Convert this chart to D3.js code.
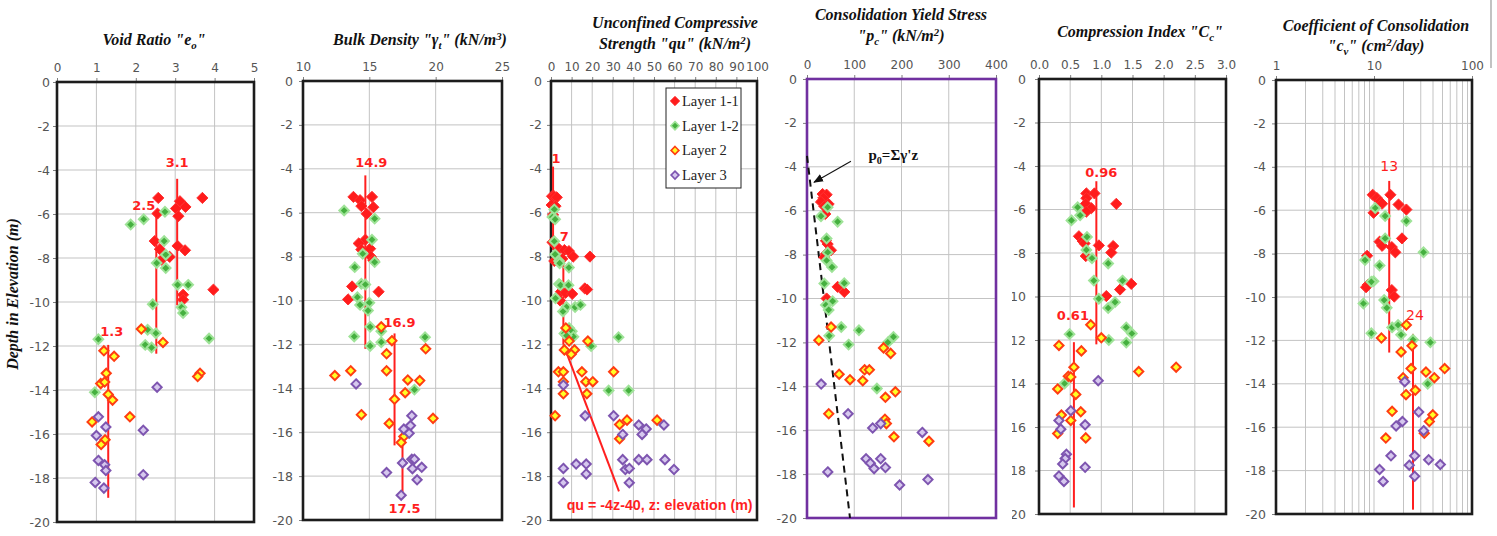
<!DOCTYPE html>
<html>
<head>
<meta charset="utf-8">
<script src="https://cdn.jsdelivr.net/npm/d3@7"></script>
<style>
  body { margin: 0; background: #fff; }
  svg { display: block; }
</style>
</head>
<body>
<script>
(function(d3) {
  "use strict";

  /***** Données *****/
  var layerNames = ["Layer 1-1", "Layer 1-2", "Layer 2", "Layer 3"];
  var depthTicks = [0, -2, -4, -6, -8, -10, -12, -14, -16, -18, -20];

  // Void ratio "eo" : [eo, profondeur]
  var e0_L11 = [[2.57,-5.27],[3.69,-5.27],[3.12,-5.42],[3.02,-5.75],[3.26,-5.68],[2.55,-5.98],[3.08,-6.1],[2.48,-7.23],[2.61,-7.6],[3.06,-7.45],[3.25,-7.65],[2.65,-8.08],[2.86,-7.95],[3.97,-9.44],[3.2,-9.67],[3.2,-9.9]];
  var e0_L12 = [[1.87,-6.48],[2.2,-6.24],[2.74,-5.9],[2.72,-7.23],[2.76,-7.85],[2.53,-8.23],[2.76,-8.46],[3.06,-9.22],[3.33,-9.22],[2.43,-10.1],[3.16,-10.24],[3.2,-10.5],[1.05,-11.69],[2.3,-11.26],[2.51,-11.42],[2.24,-11.95],[2.4,-12.07],[3.86,-11.66],[0.96,-14.1]];
  var e0_L2 = [[2.14,-11.23],[2.69,-11.84],[1.19,-12.22],[1.45,-12.47],[1.25,-13.24],[3.63,-13.24],[3.57,-13.39],[1.11,-13.71],[1.21,-13.64],[1.3,-14.2],[1.41,-14.46],[1.85,-15.22],[0.89,-15.45],[1.22,-16.26],[1.12,-16.48]];
  var e0_L3 = [[2.54,-13.87],[1.05,-15.22],[1.24,-15.68],[2.19,-15.83],[1.0,-16.07],[1.05,-17.2],[1.21,-17.4],[1.24,-17.66],[2.19,-17.85],[0.97,-18.2],[1.19,-18.46]];
  // moyennes : [texte, valeur, haut, bas]
  var e0_avg = [["3.1",3.05,-4.4,-10.15],["2.5",2.52,-6.0,-12.35],["1.3",1.3,-11.95,-18.9]];

  // Bulk density "γt"
  var g_L11 = [[13.8,-5.28],[15.2,-5.28],[14.3,-5.43],[14.4,-5.7],[15.3,-5.75],[14.8,-6.05],[14.7,-7.23],[14.2,-7.4],[14.4,-7.68],[15.06,-7.64],[15.1,-7.99],[15.3,-8.17],[13.7,-9.36],[15.7,-9.6],[13.4,-9.95]];
  var g_L12 = [[13.1,-5.9],[15.4,-6.27],[15.2,-7.23],[14.5,-7.87],[15.4,-8.25],[13.9,-8.48],[14.4,-9.24],[14.7,-9.27],[14.1,-9.85],[14.3,-10.2],[15.0,-10.1],[14.9,-10.46],[15.06,-11.2],[15.9,-11.4],[13.86,-11.64],[19.2,-11.67],[15.9,-11.9],[15.06,-12.07],[18.4,-14.06]];
  var g_L2 = [[15.9,-11.2],[16.7,-11.83],[19.25,-12.2],[16.3,-12.43],[16.3,-13.2],[13.6,-13.2],[12.4,-13.42],[17.9,-13.62],[18.8,-13.65],[17.7,-14.2],[16.9,-14.5],[14.4,-15.2],[19.8,-15.37],[16.5,-15.6],[17.6,-16.2],[17.4,-16.47]];
  var g_L3 = [[14.0,-13.8],[18.2,-15.25],[18.1,-15.7],[17.6,-15.86],[18.0,-16.05],[17.5,-17.4],[18.2,-17.23],[18.4,-17.23],[18.25,-17.66],[18.95,-17.6],[16.3,-17.84],[18.6,-18.17],[17.4,-18.87]];
  var g_avg = [["14.9",14.7,-4.3,-12.2],["16.9",16.9,-11.5,-16.6],["17.5",17.5,-15.9,-18.9]];

  // Unconfined compressive strength "qu"
  var q_L11 = [[0.5,-5.25],[1.5,-5.25],[2.8,-5.3],[0.3,-5.65],[2.2,-5.7],[1.0,-6.1],[0.7,-7.35],[3.9,-7.65],[6.5,-7.7],[8.7,-7.75],[10.8,-8.0],[18.9,-8.0],[1.6,-8.2],[5.5,-8.1],[16.4,-9.45],[17.5,-9.5],[4.8,-9.6],[7.1,-9.65],[10.3,-9.7],[4.4,-10.0]];
  var q_L12 = [[1.6,-5.85],[0.7,-6.2],[2.0,-6.3],[1.6,-7.3],[2.0,-7.9],[3.9,-8.2],[4.2,-8.3],[8.7,-8.5],[3.9,-9.25],[4.6,-9.3],[8.5,-9.3],[2.2,-9.9],[7.5,-10.3],[11.7,-10.3],[14.3,-10.2],[5.8,-10.5],[8.8,-11.25],[10.1,-11.4],[6.5,-11.5],[10.9,-11.65],[7.6,-11.6],[19.5,-12.08],[32.8,-11.67],[28,-14.1],[37.7,-14.1]];
  var q_L2 = [[7.2,-11.25],[8.8,-11.85],[17.9,-11.85],[6.5,-12.25],[11.4,-12.25],[9.8,-12.45],[3.6,-13.25],[6,-13.25],[15,-13.25],[30.4,-13.25],[6,-13.7],[16.9,-13.7],[20.3,-13.7],[6,-14.25],[17.4,-14.25],[2,-15.25],[36.9,-15.45],[33.3,-15.65],[51.5,-15.45],[33.3,-16.3]];
  var q_L3 = [[6,-13.85],[16.6,-15.25],[30.4,-15.25],[42.6,-15.67],[46.2,-15.85],[34.8,-16.1],[44.2,-16.1],[54.8,-15.67],[34.8,-17.25],[42.6,-17.25],[46.6,-17.25],[55.3,-17.25],[12.2,-17.45],[17.1,-17.45],[6,-17.65],[36.1,-17.7],[38,-17.65],[59.7,-17.7],[17.1,-17.9],[6,-18.3],[38,-18.3]];
  var q_avg = [["1",1,-3.9,-7.7],["7",6,-7.6,-12.0]];
  var q_trend = [[6,-12.0],[33,-18.7]];
  var q_trendLabel = "qu = -4z-40, z: elevation (m)";

  // Consolidation yield stress "pc"
  var pc_L11 = [[33,-5.24],[41.5,-5.27],[34.5,-5.42],[29.6,-5.6],[45.8,-5.7],[36.6,-5.8],[38.7,-6.15],[40,-7.37],[43.7,-7.52],[50.7,-7.8],[40,-7.97],[36.6,-8.12],[64.8,-9.47],[78.9,-9.7],[41.5,-10.0]];
  var pc_L12 = [[43.7,-5.84],[29.6,-6.25],[64.8,-6.5],[41.5,-7.27],[43.7,-7.9],[41.5,-8.27],[52.8,-8.57],[36.6,-9.32],[78.9,-9.3],[54.2,-10.12],[40,-10.3],[45.8,-10.52],[72.5,-11.3],[110,-11.45],[183,-11.75],[171,-12.0],[88,-12.1],[47,-11.7],[148,-14.1]];
  var pc_L2 = [[51,-11.3],[25,-11.9],[162,-12.25],[177,-12.5],[68,-13.45],[122,-13.25],[132,-13.25],[91,-13.7],[118,-13.75],[187,-14.25],[166,-14.5],[46,-15.25],[165,-15.5],[168,-15.7],[184,-16.3],[258,-16.5]];
  var pc_L3 = [[30,-13.9],[87,-15.25],[139,-15.9],[156,-15.7],[244,-16.1],[125,-17.3],[134,-17.5],[142,-17.75],[156,-17.3],[166,-17.7],[44,-17.9],[196,-18.5],[256,-18.25]];
  var pc_p0 = [[0,-3.5],[91,-20]];

  // Compression index "Cc"
  var cc_L11 = [[0.76,-5.26],[0.89,-5.26],[0.76,-5.48],[0.75,-5.74],[1.24,-5.74],[0.84,-5.94],[0.76,-6.1],[0.64,-7.23],[0.70,-7.45],[0.73,-7.56],[0.96,-7.65],[1.19,-7.68],[1.16,-7.98],[0.75,-8.14],[1.48,-9.42],[1.3,-9.68],[1.08,-9.98]];
  var cc_L12 = [[0.62,-5.9],[0.66,-6.27],[0.52,-6.5],[0.77,-7.26],[0.76,-7.86],[0.85,-8.24],[1.11,-8.48],[0.88,-9.27],[1.34,-9.27],[0.96,-10.1],[1.22,-10.26],[1.11,-10.53],[0.49,-11.73],[1.12,-12.0],[1.4,-11.42],[1.49,-11.7],[1.4,-12.12],[0.41,-14.0]];
  var cc_L2 = [[0.83,-11.3],[1.0,-11.9],[0.32,-12.25],[0.68,-12.5],[0.56,-13.25],[2.2,-13.25],[1.6,-13.45],[0.47,-13.67],[0.51,-13.7],[0.59,-14.5],[0.3,-14.25],[0.67,-15.3],[0.36,-15.45],[0.51,-15.7],[0.3,-16.3],[0.75,-16.5]];
  var cc_L3 = [[0.95,-13.87],[0.51,-15.25],[0.32,-15.7],[0.35,-16.1],[0.74,-15.9],[0.44,-17.25],[0.42,-17.45],[0.38,-17.7],[0.74,-17.85],[0.32,-18.25],[0.4,-18.5]];
  var cc_avg = [["0.96",0.92,-4.7,-12.2],["0.61",0.56,-12.1,-19.7]];

  // Coefficient of consolidation "cv"
  var cv_L11 = [[9.7,-5.29],[10.7,-5.44],[11.5,-5.6],[14.7,-5.29],[17.8,-5.74],[21.4,-5.97],[12.1,-5.7],[9.9,-6.12],[11.4,-7.45],[12.1,-7.64],[15.2,-7.7],[16.5,-7.94],[19.3,-7.3],[8.5,-8.1],[8.6,-9.45],[8.3,-9.55],[15.2,-9.68],[16.1,-9.98]];
  var cv_L12 = [[10.3,-5.9],[13,-6.27],[21.4,-6.5],[13,-7.3],[32,-7.94],[8.1,-8.3],[11.4,-8.55],[9.9,-9.27],[9.4,-9.3],[7.8,-10.3],[12.7,-10.14],[13.5,-10.5],[9.4,-11.67],[15.3,-11.4],[17.6,-11.29],[18.9,-11.74],[25,-11.97],[37.6,-12.09],[35.3,-14.0]];
  var cv_L2 = [[21.4,-11.29],[11.9,-11.89],[24.4,-12.25],[18.9,-12.53],[23.9,-13.3],[33.9,-13.46],[52.6,-13.3],[41.3,-13.72],[19.8,-13.72],[26.4,-14.3],[21.2,-14.5],[15.3,-15.27],[39.8,-15.43],[36.7,-15.74],[32.6,-16.28],[13.2,-16.5]];
  var cv_L3 = [[20.6,-13.9],[28.6,-15.3],[19.5,-15.74],[16.8,-15.94],[32.1,-16.16],[14.9,-17.32],[26,-17.32],[36.1,-17.5],[47.5,-17.72],[22.9,-17.75],[11.4,-17.95],[26,-18.26],[12.4,-18.5]];
  var cv_avg = [["13",14.3,-4.65,-12.56],["24",25,-11.7,-19.8]];

  // Titres : segments [texte, "sub" | "sup" | ""]
  var titleE0 = [[["Void Ratio \"e",""],["o","sub"],["\"",""]]];
  var titleG = [[["Bulk Density \"γ",""],["t","sub"],["\" (kN/m",""],["3","sup"],[")",""]]];
  var titleQ = [[["Unconfined Compressive",""]],[["Strength \"qu\" (kN/m",""],["2","sup"],[")",""]]];
  var titlePc = [[["Consolidation Yield Stress",""]],[["\"p",""],["c","sub"],["\" (kN/m",""],["2","sup"],[")",""]]];
  var titleCc = [[["Compression Index \"C",""],["c","sub"],["\"",""]]];
  var titleCv = [[["Coefficient of Consolidation",""]],[["\"c",""],["v","sub"],["\" (cm",""],["2","sup"],["/day)",""]]];
  var yTitle = "Depth in Elevation (m)";
  var p0Label = [["p",""],["0","sub"],["=Σγ'z",""]];

  /***** Configuration *****/
  var layerStyle = [
    { fill: "#ff1c1c", stroke: "#ff3030", r: 5.6, sw: 1 },
    { fill: "#45b03f", stroke: "#9fe398", r: 4.8, sw: 2 },
    { fill: "#ffff26", stroke: "#ff3d12", r: 4.6, sw: 2 },
    { fill: "#d6c8ee", stroke: "#7e55b0", r: 4.6, sw: 2 }
  ];
  var RED = "#ff1f1f";
  var GRID = "#c3c3c3";
  var TICK_FONT = "'DejaVu Sans', Verdana, sans-serif";
  var SERIF = "'Liberation Serif', 'Times New Roman', serif";

  var panels = [
    { x0: 57, x1: 254, y0: 82, y1: 522, domain: [0, 5], ticks: [0,1,2,3,4,5], fmt: String, yPad: 3,
      layers: [e0_L11, e0_L12, e0_L2, e0_L3], avg: e0_avg,
      avgLabel: [{ at: "top", dx: 0, dy: -12, anchor: "middle" }, { at: "top", dx: -1, dy: -4, anchor: "end" }, { at: "top", dx: -8, dy: -9, anchor: "start" }],
      title: titleE0, titleX: 154, titleY: [45] },
    { x0: 303, x1: 502, y0: 81, y1: 520, domain: [10, 25], ticks: [10,15,20,25], fmt: String, yPad: 6,
      layers: [g_L11, g_L12, g_L2, g_L3], avg: g_avg,
      avgLabel: [{ at: "top", dx: 6, dy: -8, anchor: "middle" }, { at: "top", dx: 5, dy: -6, anchor: "middle" }, { at: "bottom", dx: 2, dy: 17, anchor: "middle" }],
      title: titleG, titleX: 420, titleY: [45] },
    { x0: 551, x1: 757, y0: 81, y1: 520, domain: [0, 100], ticks: d3.range(0, 101, 10), fmt: String, yPad: 5,
      layers: [q_L11, q_L12, q_L2, q_L3], avg: q_avg,
      avgLabel: [{ at: "top", dx: 3, dy: -4, anchor: "middle" }, { at: "top", dx: 1, dy: -7, anchor: "middle" }],
      title: titleQ, titleX: 675, titleY: [28, 49], legend: true, trend: true },
    { x0: 807, x1: 996, y0: 79, y1: 518, domain: [0, 400], ticks: [0,100,200,300,400], fmt: String, yPad: 6,
      layers: [pc_L11, pc_L12, pc_L2, pc_L3], avg: [], avgLabel: [],
      title: titlePc, titleX: 901, titleY: [20, 41], border: "#7030a0", p0: true },
    { x0: 1039, x1: 1226, y0: 79, y1: 514, domain: [0, 3], ticks: [0,0.5,1,1.5,2,2.5,3], fmt: d3.format(".1f"), yPad: 9,
      layers: [cc_L11, cc_L12, cc_L2, cc_L3], avg: cc_avg,
      avgLabel: [{ at: "top", dx: 5, dy: -4, anchor: "middle" }, { at: "top", dx: -1, dy: -22, anchor: "middle" }],
      title: titleCc, titleX: 1140, titleY: [37], clipY: 1012 },
    { x0: 1276, x1: 1472, y0: 80, y1: 514, domain: [1, 100], ticks: [1,10,100], fmt: String, log: true, yPad: 6,
      layers: [cv_L11, cv_L12, cv_L2, cv_L3], avg: cv_avg,
      avgLabel: [{ at: "top", dx: 0, dy: -10, anchor: "middle" }, { at: "top", dx: 2, dy: -14, anchor: "middle" }],
      title: titleCv, titleX: 1376, titleY: [31, 51], avgWeight: "normal", avgSize: 14 }
  ];

  /***** Création des éléments *****/
  var svg = d3.select("body").append("svg")
    .attr("width", 1497)
    .attr("height", 536)
    .style("font-family", TICK_FONT);

  var defs = svg.append("defs");
  defs.append("marker")
    .attr("id", "arrow")
    .attr("viewBox", "0 0 10 10")
    .attr("refX", 9).attr("refY", 5)
    .attr("markerWidth", 9).attr("markerHeight", 9)
    .attr("orient", "auto")
    .append("path").attr("d", "M0,1L10,5L0,9Z").attr("fill", "#111");

  function diamond(h) {
    return "M0," + (-h) + "L" + h + ",0L0," + h + "L" + (-h) + ",0Z";
  }

  function richText(textSel, segs, subShift) {
    var shift = 0;
    segs.forEach(function(s) {
      var ts = textSel.append("tspan").text(s[0]);
      var target = s[1] === "sub" ? subShift : s[1] === "sup" ? -subShift - 1 : 0;
      if (target !== shift) ts.attr("dy", target - shift);
      if (s[1]) ts.attr("font-size", "68%");
      shift = target;
    });
  }

  panels.forEach(function(p, pi) {
    var x = (p.log ? d3.scaleLog() : d3.scaleLinear()).domain(p.domain).range([p.x0, p.x1]);
    var y = d3.scaleLinear().domain([0, -20]).range([p.y0, p.y1]);
    var g = svg.append("g");

    // Quadrillage
    var gridX = p.ticks;
    if (p.log) {
      gridX = [];
      [1, 10].forEach(function(dec) { d3.range(1, 10).forEach(function(k) { gridX.push(dec * k); }); });
      gridX.push(100);
    }
    g.append("g").selectAll("line").data(gridX).join("line")
      .attr("x1", function(d) { return x(d); }).attr("x2", function(d) { return x(d); })
      .attr("y1", p.y0).attr("y2", p.y1)
      .attr("stroke", GRID).attr("stroke-width", 1);
    g.append("g").selectAll("line").data(depthTicks).join("line")
      .attr("x1", p.x0).attr("x2", p.x1)
      .attr("y1", function(d) { return y(d); }).attr("y2", function(d) { return y(d); })
      .attr("stroke", GRID).attr("stroke-width", 1);

    // Axes
    var xAxis = g.append("g")
      .attr("transform", "translate(0," + p.y0 + ")")
      .call(d3.axisTop(x).tickValues(p.ticks).tickFormat(p.fmt).tickSize(4).tickPadding(6));
    var yAxisG = g.append("g");
    if (p.clipY) {
      defs.append("clipPath").attr("id", "clipY" + pi)
        .append("rect").attr("x", p.clipY).attr("y", 0).attr("width", p.x0 - p.clipY + 2).attr("height", 536);
      yAxisG.attr("clip-path", "url(#clipY" + pi + ")");
    }
    var yAxis = yAxisG.append("g")
      .attr("transform", "translate(" + p.x0 + ",0)")
      .call(d3.axisLeft(y).tickValues(depthTicks).tickFormat(function(d) { return String(d); }).tickSize(4).tickPadding(p.yPad));
    xAxis.select(".domain").remove();
    yAxis.select(".domain").remove();
    xAxis.selectAll(".tick text").style("font-size", "12px");
    yAxis.selectAll(".tick text").style("font-size", "12.5px");
    [xAxis, yAxis].forEach(function(a) {
      a.selectAll(".tick line").attr("stroke", "#7f7f7f");
      a.selectAll(".tick text").attr("fill", "#555").style("font-family", TICK_FONT);
    });

    // Cadre
    g.append("rect")
      .attr("x", p.x0).attr("y", p.y0)
      .attr("width", p.x1 - p.x0).attr("height", p.y1 - p.y0)
      .attr("fill", "none")
      .attr("stroke", p.border || "#1c1c1c")
      .attr("stroke-width", 2.6);

    // Droites moyennes
    g.append("g").selectAll("line").data(p.avg).join("line")
      .attr("x1", function(d) { return x(d[1]); }).attr("x2", function(d) { return x(d[1]); })
      .attr("y1", function(d) { return y(d[2]); }).attr("y2", function(d) { return y(d[3]); })
      .attr("stroke", RED).attr("stroke-width", 2);

    if (p.trend) {
      g.append("line")
        .attr("x1", x(q_trend[0][0])).attr("y1", y(q_trend[0][1]))
        .attr("x2", x(q_trend[1][0])).attr("y2", y(q_trend[1][1]))
        .attr("stroke", RED).attr("stroke-width", 2);
    }

    if (p.p0) {
      g.append("line")
        .attr("x1", x(pc_p0[0][0])).attr("y1", y(pc_p0[0][1]))
        .attr("x2", x(pc_p0[1][0])).attr("y2", y(pc_p0[1][1]))
        .attr("stroke", "#111").attr("stroke-width", 2).attr("stroke-dasharray", "7,5");
    }

    // Points
    p.layers.forEach(function(data, li) {
      var st = layerStyle[li];
      g.append("g").selectAll("path").data(data).join("path")
        .attr("transform", function(d) { return "translate(" + x(d[0]) + "," + y(d[1]) + ")"; })
        .attr("d", diamond(st.r))
        .attr("fill", st.fill).attr("stroke", st.stroke).attr("stroke-width", st.sw);
    });

    // Étiquettes des moyennes
    g.append("g").selectAll("text").data(p.avg).join("text")
      .attr("x", function(d, i) { return x(d[1]) + p.avgLabel[i].dx; })
      .attr("y", function(d, i) { return y(p.avgLabel[i].at === "top" ? d[2] : d[3]) + p.avgLabel[i].dy; })
      .attr("text-anchor", function(d, i) { return p.avgLabel[i].anchor; })
      .attr("fill", RED)
      .style("font-family", TICK_FONT)
      .style("font-weight", p.avgWeight || "bold")
      .style("font-size", (p.avgSize || 13) + "px")
      .text(function(d) { return d[0]; });

    if (p.trend) {
      g.append("text")
        .attr("x", x(7.6)).attr("y", y(-19.3) + 5)
        .attr("fill", RED)
        .attr("textLength", 186).attr("lengthAdjust", "spacingAndGlyphs")
        .style("font-family", "'Liberation Sans', Arial, sans-serif")
        .style("font-weight", "bold").style("font-size", "14px")
        .text(q_trendLabel);
    }

    if (p.p0) {
      var t0 = g.append("text")
        .attr("x", x(130)).attr("y", y(-3.7))
        .style("font-family", SERIF).style("font-weight", "bold").style("font-size", "15px")
        .attr("fill", "#111");
      richText(t0, p0Label, 4);
      g.append("line")
        .attr("x1", x(93)).attr("y1", y(-3.75))
        .attr("x2", x(15)).attr("y2", y(-4.7))
        .attr("stroke", "#111").attr("stroke-width", 1.1)
        .attr("marker-end", "url(#arrow)");
    }

    // Titre
    p.title.forEach(function(line, k) {
      var t = g.append("text")
        .attr("x", p.titleX).attr("y", p.titleY[k])
        .attr("text-anchor", "middle")
        .attr("fill", "#111")
        .style("font-family", SERIF).style("font-weight", "bold").style("font-style", "italic")
        .style("font-size", "16px");
      richText(t, line, 4);
    });

    // Légende
    if (p.legend) {
      var lg = g.append("g").attr("transform", "translate(666,88)");
      lg.append("rect").attr("width", 75).attr("height", 100)
        .attr("fill", "#fff").attr("stroke", "#222").attr("stroke-width", 1);
      layerNames.forEach(function(name, li) {
        var st = layerStyle[li];
        var row = lg.append("g").attr("transform", "translate(9," + (13 + li * 24.7) + ")");
        row.append("path").attr("d", diamond(st.r * 0.85))
          .attr("fill", st.fill).attr("stroke", st.stroke).attr("stroke-width", st.sw * 0.8);
        row.append("text").attr("x", 7).attr("y", 5)
          .style("font-family", SERIF).style("font-size", "14.5px").attr("fill", "#222")
          .text(name);
      });
    }
  });

  // Titre de l'axe vertical
  svg.append("text")
    .attr("transform", "translate(18,294) rotate(-90)")
    .attr("text-anchor", "middle")
    .attr("fill", "#111")
    .style("font-family", SERIF).style("font-weight", "bold").style("font-style", "italic")
    .style("font-size", "16px")
    .text(yTitle);

  // Bord droit de l'image d'origine
  svg.append("line")
    .attr("x1", 1491).attr("x2", 1491).attr("y1", 0).attr("y2", 68)
    .attr("stroke", "#9a9a9a").attr("stroke-width", 1.2);
})(d3);
</script>
</body>
</html>
